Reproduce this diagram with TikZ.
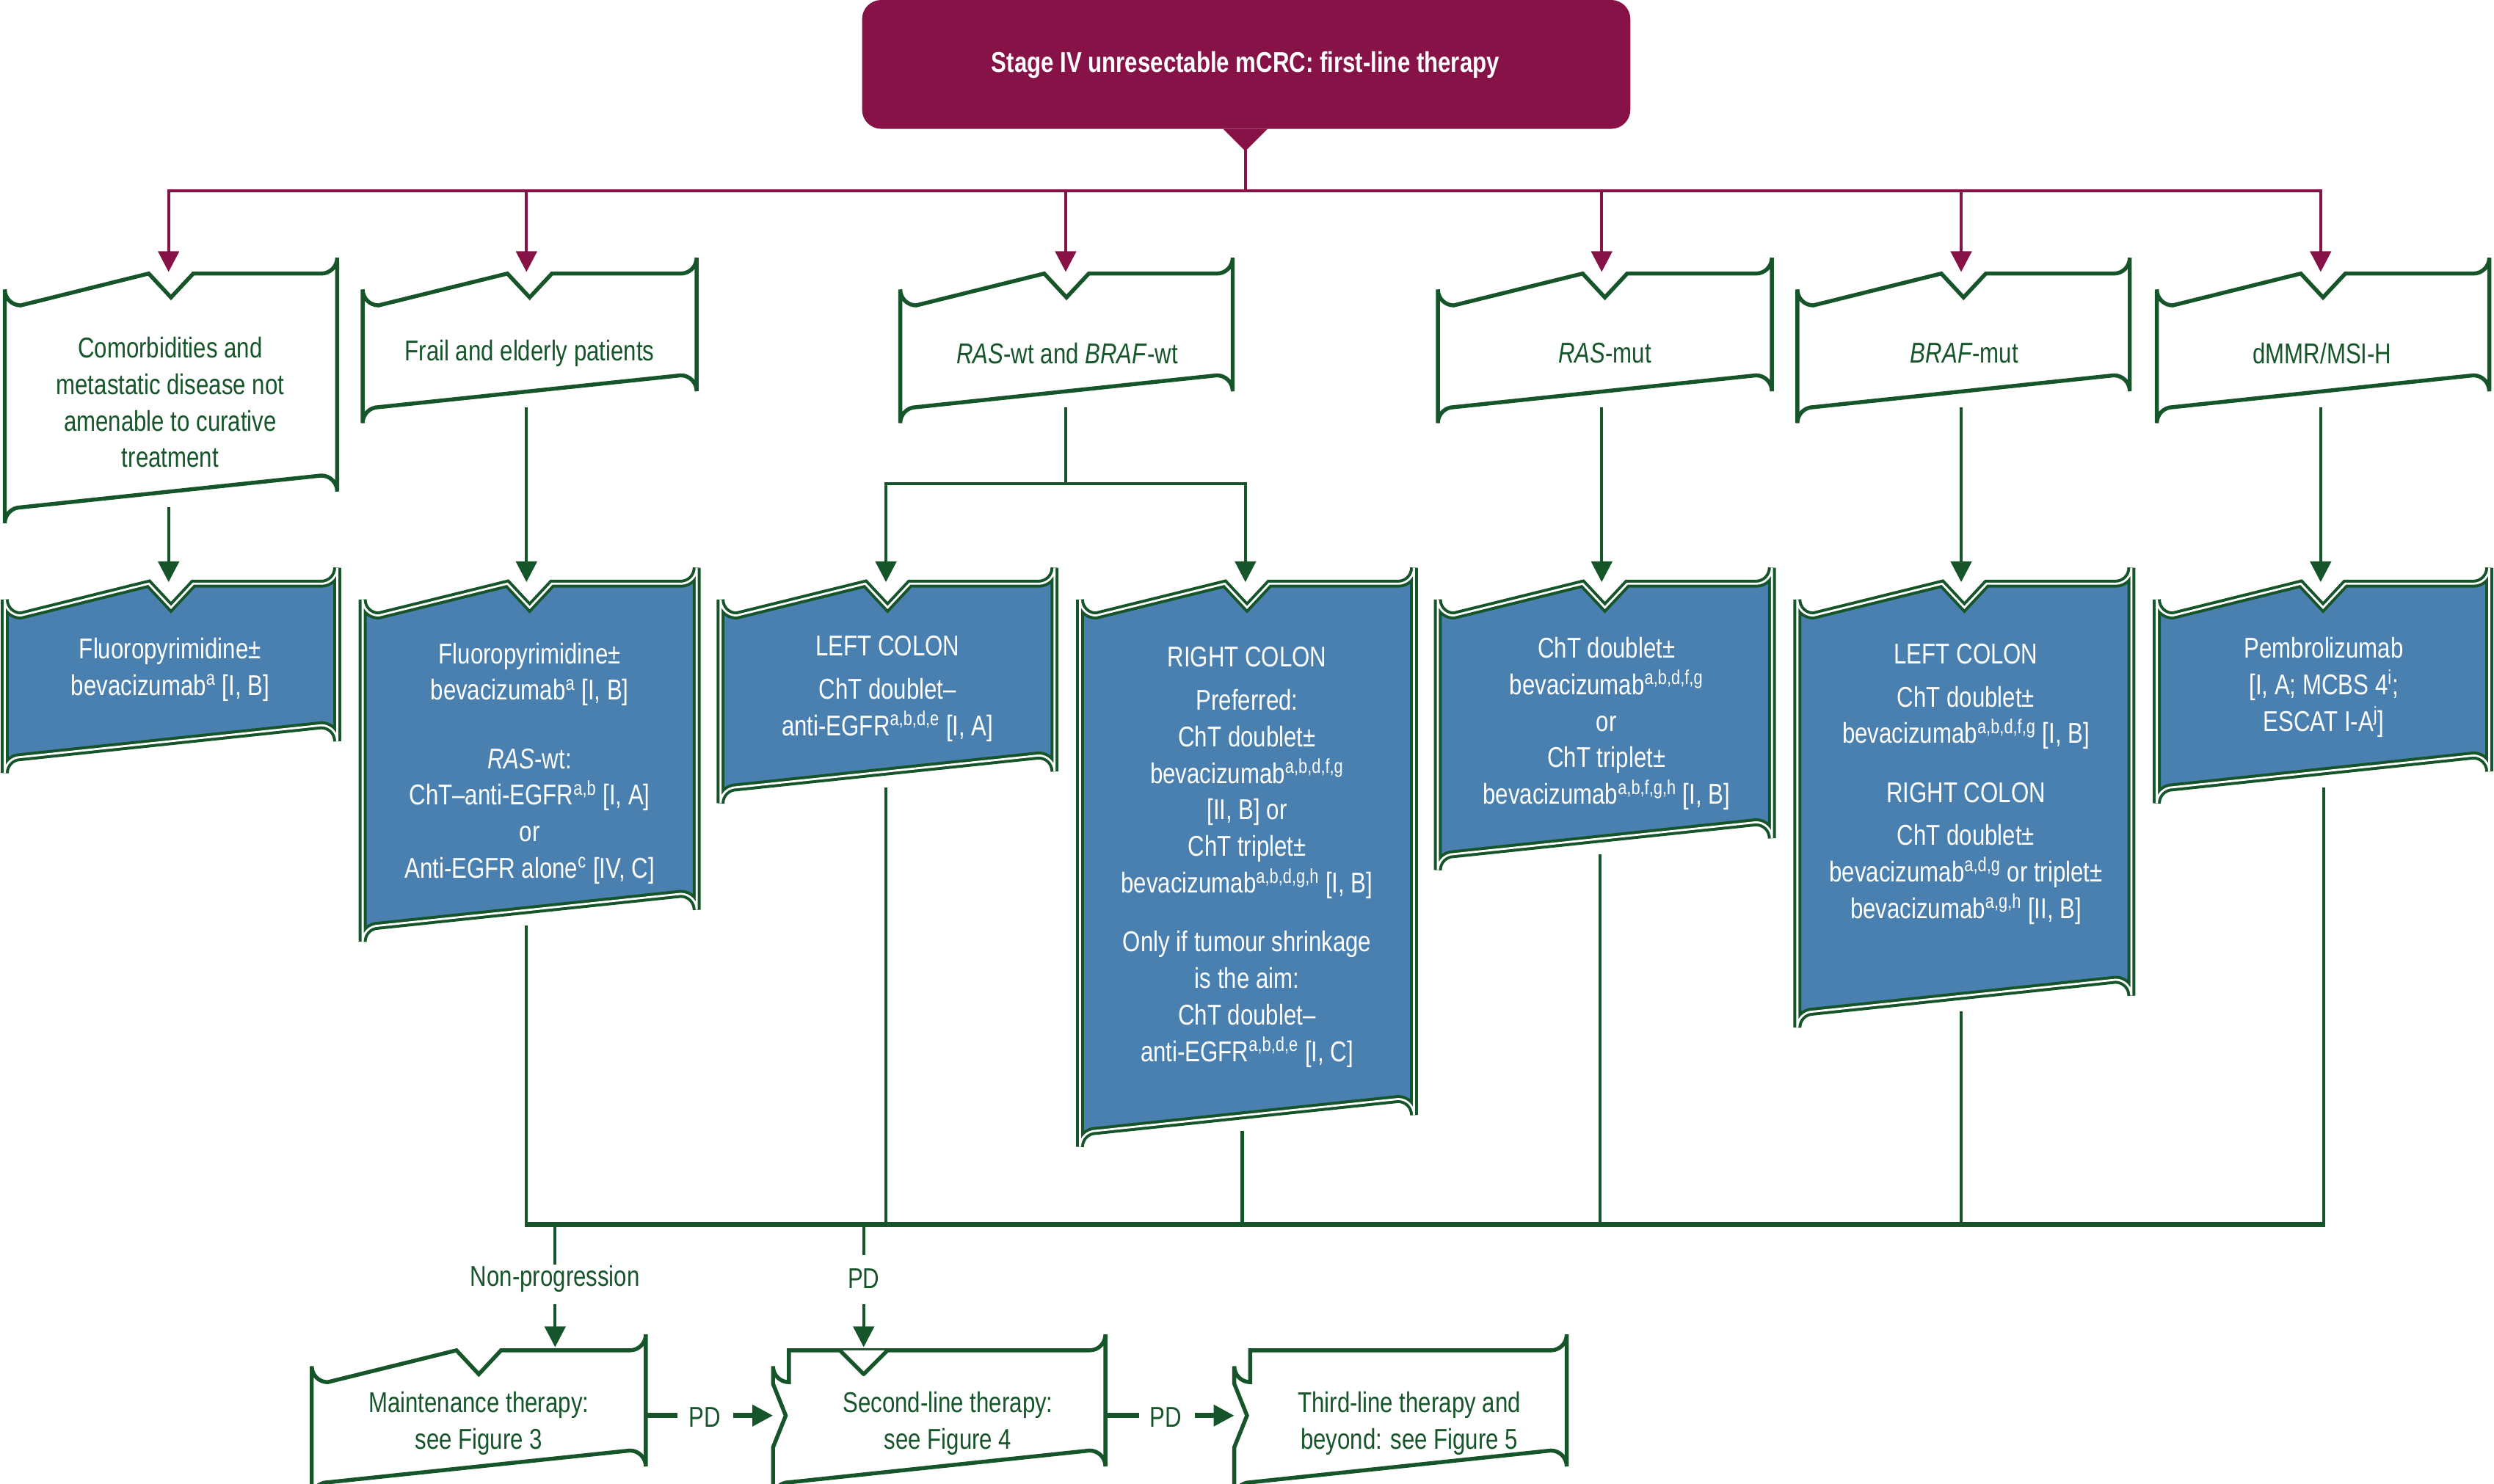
\documentclass[tikz,border=0pt]{standalone}
\usepackage{fontspec}
\setmainfont{Liberation Sans}[FakeStretch=0.8]
\usetikzlibrary{arrows.meta}
\definecolor{esgreen}{RGB}{22,84,42}
\definecolor{esblue}{RGB}{74,128,176}
\definecolor{esred}{RGB}{134,18,72}
\tikzset{every picture/.style={line width=1pt}}
\tikzset{
  txt/.style={align=center,font=\fontsize{18}{23}\selectfont,inner sep=0pt},
  whitebox/.style={draw=esgreen,line width=2.5pt,fill=white},
  bluebox/.style={draw=esgreen,line width=5pt,fill=esblue},
  garrow/.style={draw=esgreen,line width=2pt,-{Triangle[width=13pt,length=13pt]}},
  rarrow/.style={draw=esred,line width=2pt,-{Triangle[width=13pt,length=13pt]}},
  gline/.style={draw=esgreen,line width=2pt},
}
% box with a notch at its top centre
\newcommand\topnotch[5]{%
  \pgfmathsetmacro\cx{(#2+#4)/2}
  \path[#1] (\cx,#3+15) -- (\cx+14,#3) -- (#4-10,#3) arc[start angle=90,end angle=0,radius=10]
    -- (#4,#5-10) arc[start angle=0,end angle=-90,radius=10] -- (#2+10,#5)
    arc[start angle=270,end angle=180,radius=10] -- (#2,#3+10)
    arc[start angle=180,end angle=90,radius=10] -- (\cx-14,#3) -- cycle;}
\newcommand\bluenotch[4]{%
  \topnotch{bluebox}{#1}{#2}{#3}{#4}
  \topnotch{draw=white,line width=1.3pt}{#1}{#2}{#3}{#4}}
\begin{document}
\begin{tikzpicture}[x=1pt,y=-1pt]
\useasboundingbox (0,0) rectangle (1568,933);

% top box
\path[fill=esred,rounded corners=12] (542,0) rectangle (1025,81);
\path[fill=esred] (769,81) -- (783,95) -- (797,81) -- cycle;
\node[txt,text=white,font=\fontsize{18}{23}\selectfont\bfseries] (top) at (783,41) {Stage IV unresectable mCRC: first-line therapy};
\coordinate (topb) at (783,94);
\coordinate (split) at (783,120);

% first row
\topnotch{whitebox}{3}{172}{212}{319}
\topnotch{whitebox}{228}{172}{438}{256}
\topnotch{whitebox}{566}{172}{775}{256}
\topnotch{whitebox}{904}{172}{1114}{256}
\topnotch{whitebox}{1130}{172}{1339}{256}
\topnotch{whitebox}{1356}{172}{1565}{256}
\node[txt,text=esgreen] (como) at (107,253) {Comorbidities and\\metastatic disease not\\amenable to curative\\treatment};
\node[txt,text=esgreen] (frail) at (333,222) {Frail and elderly patients};
\node[txt,text=esgreen] (raswt) at (671,222) {\textit{RAS}-wt and \textit{BRAF}-wt};
\node[txt,text=esgreen] (rasmut) at (1009,222) {\textit{RAS}-mut};
\node[txt,text=esgreen] (brafmut) at (1235,222) {\textit{BRAF}-mut};
\node[txt,text=esgreen] (dmmr) at (1460,222) {dMMR/MSI-H};

% second row
\bluenotch{3}{367}{212}{476}
\bluenotch{228}{367}{438}{582}
\bluenotch{453}{367}{663}{495}
\bluenotch{679}{367}{889}{711}
\bluenotch{904}{367}{1114}{537}
\bluenotch{1130}{367}{1340}{636}
\bluenotch{1356}{367}{1565}{495}
\node[txt,text=white] (fluoa) at (107,421) {Fluoropyrimidine±\\bevacizumab\textsuperscript{a} [I, B]};
\node[txt,text=white] (fluob) at (333,480) {Fluoropyrimidine±\\bevacizumab\textsuperscript{a} [I, B]\\[20pt]\textit{RAS}-wt:\\ChT–anti-EGFR\textsuperscript{a,b} [I, A]\\or\\Anti-EGFR alone\textsuperscript{c} [IV, C]};
\node[txt,text=white] (leftc) at (558,433) {LEFT COLON\\[4pt]ChT doublet–\\anti-EGFR\textsuperscript{a,b,d,e} [I, A]};
\node[txt,text=white] (rightc) at (784,539) {RIGHT COLON\\[4pt]Preferred:\\ChT doublet±\\bevacizumab\textsuperscript{a,b,d,f,g}\\{}[II, B] or\\ChT triplet±\\bevacizumab\textsuperscript{a,b,d,g,h} [I, B]\\[14pt]Only if tumour shrinkage\\is the aim:\\ChT doublet–\\anti-EGFR\textsuperscript{a,b,d,e} [I, C]};
\node[txt,text=white] (chtmut) at (1010,455) {ChT doublet±\\bevacizumab\textsuperscript{a,b,d,f,g}\\or\\ChT triplet±\\bevacizumab\textsuperscript{a,b,f,g,h} [I, B]};
\node[txt,text=white] (chtbraf) at (1236,493) {LEFT COLON\\[4pt]ChT doublet±\\bevacizumab\textsuperscript{a,b,d,f,g} [I, B]\\[14pt]RIGHT COLON\\[4pt]ChT doublet±\\bevacizumab\textsuperscript{a,d,g} or triplet±\\bevacizumab\textsuperscript{a,g,h} [II, B]};
\node[txt,text=white] (pembro) at (1461,432) {Pembrolizumab\\{}[I, A; MCBS 4\textsuperscript{i};\\ESCAT I-A\textsuperscript{j}]};

% maroon connectors
\draw[draw=esred,line width=2pt] (topb) -- (split);
\draw[draw=esred,line width=2pt] (106,120) -- (1459,120);
\foreach \x in {106,331,670,1007,1233,1459}
  \draw[rarrow] (\x,119) -- (\x,171);

% green connectors
\foreach \x/\a/\b in {106/319/366,331/256/366,1007/256/366,1233/256/366,1459/256/366}
  \draw[garrow] (\x,\a) -- (\x,\b);
\draw[gline] (670,256) -- (670,304);
\draw[garrow] (670,304) -| (557,366);
\draw[garrow] (670,304) -| (783,366);

% collecting line
\foreach \x/\a in {331/582,557/495,781/711,1006/537,1233/636,1461/495}
  \draw[gline] (\x,\a) -- (\x,770);
\draw[draw=esgreen,line width=3pt] (330,770) -- (1462,770);
\node[txt,text=esgreen] (nonprog) at (349,804) {Non-progression};
\node[txt,text=esgreen] (pd1) at (543,804) {PD};
\draw[gline] (349,770) -- (nonprog.north) ++(0,-4);
\draw[gline] (349,771) -- (349,789);
\draw[garrow] (349,820) -- (349,847);
\draw[gline] (543,771) -- (543,789);
\draw[garrow] (543,820) -- (543,847);

% bottom row
\topnotch{whitebox}{196}{849}{406}{932}
\path[whitebox] (496,849) -- (685,849) arc[start angle=90,end angle=0,radius=10] -- (695,922)
  arc[start angle=0,end angle=-90,radius=10] -- (496,932) arc[start angle=270,end angle=180,radius=10]
  -- (486,910) -- (494,890) -- (486,870) -- (486,859) arc[start angle=180,end angle=90,radius=10]
  -- cycle;
\path[fill=white] (529,849) -- (543,864) -- (557,849) -- cycle;
\draw[draw=esgreen,line width=2.5pt,line join=round] (528,849) -- (543,864) -- (558,849);
\path[whitebox] (786,849) -- (975,849) arc[start angle=90,end angle=0,radius=10] -- (985,922)
  arc[start angle=0,end angle=-90,radius=10] -- (786,932) arc[start angle=270,end angle=180,radius=10]
  -- (776,910) -- (784,890) -- (776,870) -- (776,859) arc[start angle=180,end angle=90,radius=10]
  -- cycle;
\node[txt,text=esgreen] (maint) at (301,895) {Maintenance therapy:\\see Figure 3};
\node[txt,text=esgreen] (second) at (596,895) {Second-line therapy:\\see Figure 4};
\node[txt,text=esgreen] (third) at (886,895) {Third-line therapy and\\beyond: see Figure 5};
\node[txt,text=esgreen] (pd2) at (443,891) {PD};
\node[txt,text=esgreen] (pd3) at (733,891) {PD};
\draw[draw=esgreen,line width=3pt] (407,890) -- (426,890);
\draw[garrow,line width=3pt] (461,890) -- (486,890);
\draw[draw=esgreen,line width=3pt] (696,890) -- (716,890);
\draw[garrow,line width=3pt] (751,890) -- (776,890);
\end{tikzpicture}
\end{document}
